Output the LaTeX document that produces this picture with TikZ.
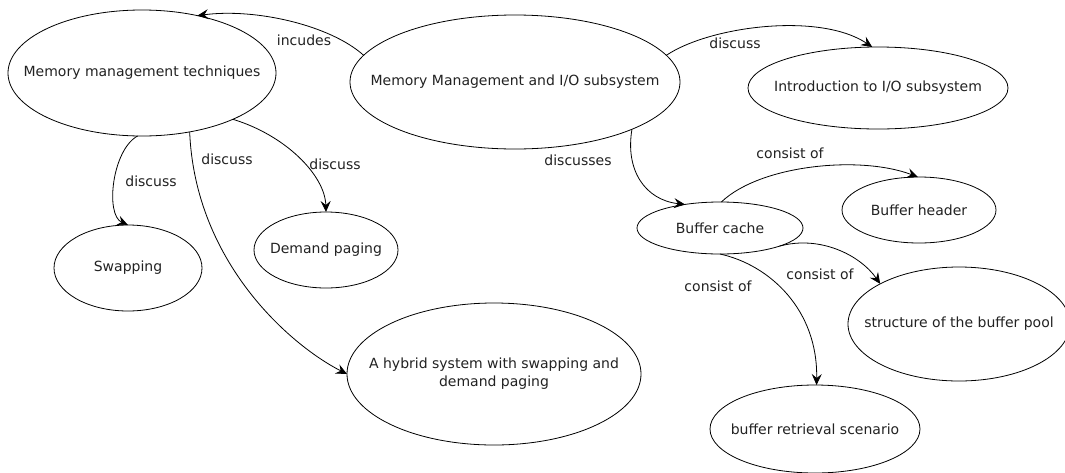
\documentclass[tikz,border=0pt]{standalone}
\usepackage{fontspec}
\setmainfont{DejaVu Sans}
\usetikzlibrary{shapes.geometric,arrows.meta}
\definecolor{ink}{HTML}{222222}
\begin{document}
\begin{tikzpicture}[x=1pt,y=-1pt,
  every node/.style={font=\fontsize{14}{18}\selectfont, text=ink},
  topic/.style={ellipse, draw=black, line width=0.8pt, inner sep=0pt, outer sep=0pt},
  link/.style={draw=black, line width=0.8pt, -{Stealth[length=11pt,width=10pt,inset=4pt]}},
  tag/.style={inner sep=1pt}]
\useasboundingbox (0,0) rectangle (1065,472);
\fill[white] (0,0) rectangle (1065,472);

% topics
\node[topic, minimum width=268, minimum height=126] (mmt) at (142,73) {\makebox[0pt]{Memory management techniques}};
\node[topic, minimum width=330, minimum height=134] (mmio) at (515,82) {\makebox[0pt]{Memory Management and I/O subsystem}};
\node[topic, minimum width=260, minimum height=82] (intro) at (878,88) {\makebox[0pt]{Introduction to I/O subsystem}};
\node[topic, minimum width=148, minimum height=86] (swap) at (128,268) {\makebox[0pt]{Swapping}};
\node[topic, minimum width=144, minimum height=76] (demand) at (326,250) {\makebox[0pt]{Demand paging}};
\node[topic, minimum width=294, minimum height=142] (hybrid) at (494,374) {\makebox[0pt]{\begin{tabular}{@{}c@{}}A hybrid system with swapping and\\demand paging\end{tabular}}};
\node[topic, minimum width=166, minimum height=52] (cache) at (720,228) {\makebox[0pt]{Buffer cache}};
\node[topic, minimum width=154, minimum height=66] (header) at (919,210) {\makebox[0pt]{Buffer header}};
\node[topic, minimum width=222, minimum height=114] (pool) at (959,324) {\makebox[0pt]{structure of the buffer pool}};
\node[topic, minimum width=210, minimum height=88] (retr) at (815,429) {\makebox[0pt]{buffer retrieval scenario}};

% connectors
\draw[link] (mmio.170) .. controls (330,25) and (255,8) .. (mmt.46);
\draw[link] (mmio.10) .. controls (710,26) and (820,12) .. (intro.98);
\draw[link] (mmio.338) .. controls (625,170) and (645,200) .. (cache.146);
\draw[link] (mmt.266) .. controls (112,150) and (105,215) .. (swap.90);
\draw[link] (mmt.309) .. controls (195,262) and (290,345) .. (hybrid.180);
\draw[link] (mmt.333) .. controls (285,135) and (325,175) .. (demand.90);
\draw[link] (cache.87) .. controls (760,165) and (860,155) .. (header.92);
\draw[link] (cache.343) .. controls (820,235) and (860,255) .. (pool.153);
\draw[link] (cache.270) .. controls (770,265) and (818,310) .. (retr.88);

% connector labels
\node[tag] (l1) at (304,40) {incudes};
\node[tag] (l2) at (735,43) {discuss};
\node[tag] (l3) at (578,160) {discusses};
\node[tag] (l4) at (151,181) {discuss};
\node[tag] (l5) at (227,159) {discuss};
\node[tag] (l6) at (335,164) {discuss};
\node[tag] (l7) at (790,153) {consist of};
\node[tag] (l8) at (820,274) {consist of};
\node[tag] (l9) at (718,286) {consist of};
\end{tikzpicture}
\end{document}
